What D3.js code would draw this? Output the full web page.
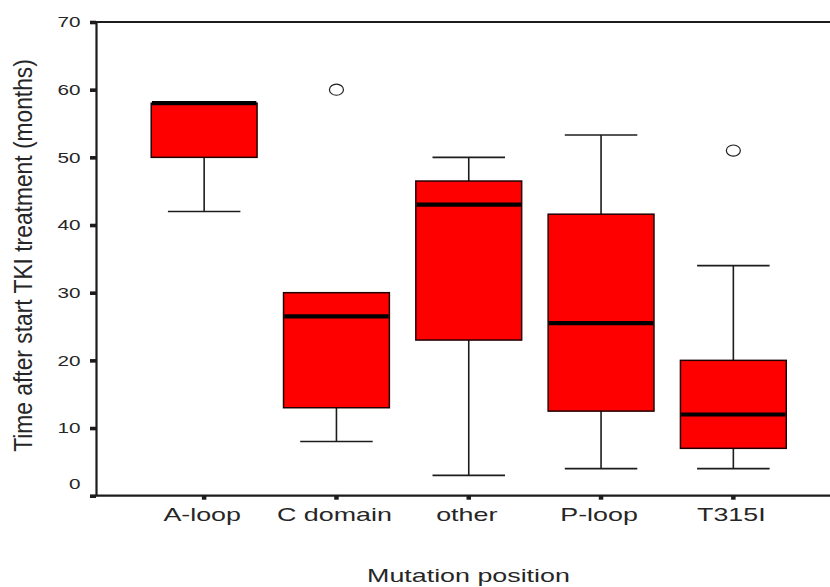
<!DOCTYPE html>
<html>
<head>
<meta charset="utf-8">
<script src="https://cdn.jsdelivr.net/npm/d3@7"></script>
<style>
  html, body { margin: 0; padding: 0; background: #fff; }
  svg { display: block; }
  text { font-family: "Liberation Sans", Arial, sans-serif; fill: #262626; }
</style>
</head>
<body>
<svg id="chart" width="830" height="587"></svg>
<script>
// Mutation groups and their box-plot summaries (months after start of TKI treatment)
const categories   = ["A-loop", "C domain", "other", "P-loop", "T315I"];
const whiskerLow   = [42, 8, 3, 4, 4];
const quartile1    = [50, 13, 23, 12.5, 7];
const medians      = [58, 26.5, 43, 25.5, 12];
const quartile3    = [58, 30, 46.5, 41.6, 20];
const whiskerHigh  = [58, 30, 50, 53.3, 34];
const outliers     = [[], [60], [], [], [51]];
const yTickValues  = [0, 10, 20, 30, 40, 50, 60, 70];
const yTitle = "Time after start TKI treatment (months)";
const xTitle = "Mutation position";

const boxes = categories.map((c, i) => ({
  cat: c, lo: whiskerLow[i], q1: quartile1[i], med: medians[i],
  q3: quartile3[i], hi: whiskerHigh[i], out: outliers[i]
}));

const svg = d3.select("#chart");
const W = 830;
const plot = { left: 96, top: 22, bottom: 495.7, right: W };

const x = d3.scaleBand().domain(categories)
  .range([138, 799.5]).paddingInner(0.2).paddingOuter(0.1);
const y = d3.scaleLinear().domain([0, 70]).range([plot.bottom, plot.top]);

const ink = "#1c1c1c";
const textInk = "#262626";
const bw = x.bandwidth();
const capW = bw * 0.685;

// widen text to a broader face: part glyph stretch, part letter spacing
function stretch(sel, factor) {
  sel.each(function () {
    const n = this.getComputedTextLength();
    d3.select(this).attr("textLength", n * factor).attr("lengthAdjust", "spacingAndGlyphs");
  });
}

// frame: top rule and baseline across the full width
svg.append("line").attr("x1", plot.left).attr("x2", plot.right)
  .attr("y1", plot.top).attr("y2", plot.top)
  .attr("stroke", ink).attr("stroke-width", 2.2);
svg.append("line").attr("x1", plot.left).attr("x2", plot.right)
  .attr("y1", plot.bottom).attr("y2", plot.bottom)
  .attr("stroke", ink).attr("stroke-width", 2.2);

// y axis
const yAxis = svg.append("g").attr("transform", `translate(${plot.left},0)`)
  .call(d3.axisLeft(y).tickValues(yTickValues).tickSize(6).tickSizeOuter(0).tickPadding(9.5));
yAxis.select(".domain").attr("stroke", ink).attr("stroke-width", 2.2);
yAxis.selectAll(".tick line").attr("stroke", ink).attr("stroke-width", 3.6);
yAxis.selectAll(".tick text")
  .attr("font-size", 15).attr("fill", textInk)
  .attr("font-family", "Liberation Sans, Arial, sans-serif")
  .call(stretch, 1.38);
// the zero label sits just above the baseline
yAxis.selectAll(".tick").filter(d => d === 0).select("text").attr("dy", "-0.45em");

// x axis
const xAxis = svg.append("g").attr("transform", `translate(0,${plot.bottom})`)
  .call(d3.axisBottom(x).tickSize(4).tickSizeOuter(0).tickPadding(8));
xAxis.select(".domain").remove();
xAxis.selectAll(".tick line").attr("stroke", ink).attr("stroke-width", 4.5);
xAxis.selectAll(".tick text")
  .attr("font-size", 18.5).attr("fill", textInk)
  .attr("font-family", "Liberation Sans, Arial, sans-serif")
  .attr("dx", -2)
  .call(stretch, 1.45);

// whiskers
const g = svg.append("g");
const cx = d => x(d.cat) + bw / 2;

boxes.forEach(d => {
  const c = cx(d);
  if (d.hi > d.q3) {
    g.append("line").attr("x1", c).attr("x2", c).attr("y1", y(d.q3)).attr("y2", y(d.hi))
      .attr("stroke", ink).attr("stroke-width", 1.6);
    g.append("line").attr("x1", c - capW / 2).attr("x2", c + capW / 2)
      .attr("y1", y(d.hi)).attr("y2", y(d.hi)).attr("stroke", ink).attr("stroke-width", 1.6);
  }
  if (d.lo < d.q1) {
    g.append("line").attr("x1", c).attr("x2", c).attr("y1", y(d.q1)).attr("y2", y(d.lo))
      .attr("stroke", ink).attr("stroke-width", 1.6);
    g.append("line").attr("x1", c - capW / 2).attr("x2", c + capW / 2)
      .attr("y1", y(d.lo)).attr("y2", y(d.lo)).attr("stroke", ink).attr("stroke-width", 1.6);
  }
});

// boxes
g.selectAll("rect.box").data(boxes).join("rect").attr("class", "box")
  .attr("x", d => x(d.cat)).attr("width", bw)
  .attr("y", d => y(d.q3)).attr("height", d => y(d.q1) - y(d.q3))
  .attr("fill", "#ff0000").attr("stroke", "#220000").attr("stroke-width", 1.5);

// medians
g.selectAll("line.med").data(boxes).join("line").attr("class", "med")
  .attr("x1", d => x(d.cat) + 0.75).attr("x2", d => x(d.cat) + bw - 0.75)
  .attr("y1", d => y(d.med)).attr("y2", d => y(d.med))
  .attr("stroke", "#000").attr("stroke-width", 4.2);

// outliers
boxes.forEach(d => {
  d.out.forEach(v => {
    g.append("ellipse").attr("cx", cx(d)).attr("cy", y(v))
      .attr("rx", 7).attr("ry", 5.6)
      .attr("fill", "none").attr("stroke", ink).attr("stroke-width", 1.2);
  });
});

// axis titles
svg.append("text")
  .attr("x", 468.5).attr("y", 582)
  .attr("text-anchor", "middle").attr("font-size", 18.5)
  .text(xTitle).call(stretch, 1.45);

svg.append("text")
  .attr("transform", `translate(32,255.5) rotate(-90) scale(1,1.3)`)
  .attr("text-anchor", "middle").attr("font-size", 20)
  .text(yTitle).call(stretch, 1.14);
</script>
</body>
</html>
